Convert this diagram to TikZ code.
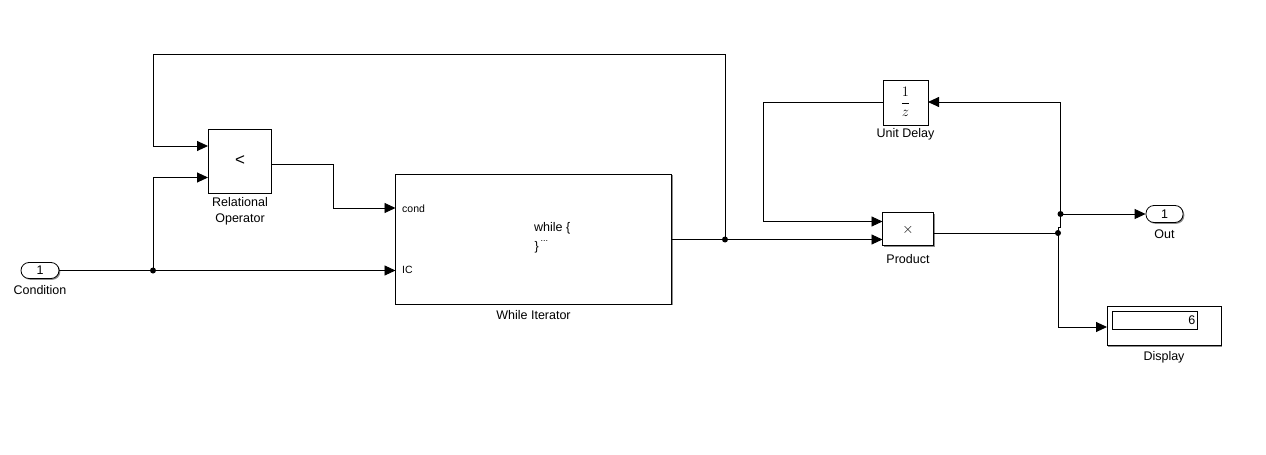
\documentclass[tikz,border=0pt]{standalone}
\usepackage{fontspec}
\setmainfont{Liberation Sans}
\usetikzlibrary{arrows.meta,shadows,calc}

\tikzset{
  wire/.style={line width=0.9pt, line join=miter},
  sig/.style={wire, -{Triangle[length=11pt,width=10pt]}},
  blk/.style={draw, line width=0.8pt, fill=white, inner sep=0pt,
    general shadow={fill=black!45, shadow xshift=1.3pt, shadow yshift=-1.3pt}},
  port/.style={blk, rounded corners=8pt},
  lbl/.style={font=\fontsize{12.5}{14}\selectfont, inner sep=0pt, align=center},
  plbl/.style={font=\fontsize{10.5}{12}\selectfont, inner sep=0pt, anchor=west},
  dot/.style={circle, fill=black, inner sep=0pt, minimum size=6pt}
}

\begin{document}
\begin{tikzpicture}[x=1pt, y=-1pt]
\useasboundingbox (0,0) rectangle (1266,455);

% blocks
\node[port, minimum width=38pt, minimum height=16pt, font=\fontsize{12.5}{14}\selectfont]
  (cnd) at (40,270.5) {1};
\node[lbl] (cndl) at (40,290) {Condition};

\node[blk, minimum width=63pt, minimum height=64pt] (rel) at (239.5,161) {};
\node[inner sep=0pt, font=\fontsize{17}{18}\selectfont] (relsym) at (240,161) {<};
\node[lbl] (rell) at (240,211.5) {Relational\\[1.5pt]Operator};

\node[blk, minimum width=276pt, minimum height=130pt] (wh) at (533.5,239) {};
\node[plbl] (whc) at (402,208.5) {cond};
\node[plbl] (whi) at (402,270) {IC};
\node[font=\fontsize{12.5}{14}\selectfont, inner sep=0pt, anchor=west] (w1) at (534,228) {while \{};
\node[font=\fontsize{9}{10}\selectfont, inner sep=0pt, anchor=base west] (w2) at (540.5,241) {...};
\node[font=\fontsize{12.5}{14}\selectfont, inner sep=0pt, anchor=west] (w3) at (534.5,247) {\}};
\node[lbl] (whl) at (533.5,315) {While Iterator};

\node[blk, minimum width=45pt, minimum height=45pt] (ud) at (905.5,102.5) {};
\node[inner sep=0pt, font=\fontsize{14}{16}\selectfont] (udf) at (905.5,102) {$\displaystyle\frac{1}{z}$};
\node[lbl] (udl) at (905.5,134) {Unit Delay};

\node[blk, minimum width=50.5pt, minimum height=33.5pt] (pr) at (908,229) {};
\node[inner sep=0pt, font=\fontsize{14}{16}\selectfont] (prs) at (908,230) {$\times$};
\node[lbl] (prl) at (908,259) {Product};

\node[port, minimum width=37pt, minimum height=17pt, font=\fontsize{12.5}{14}\selectfont]
  (out) at (1164.5,214) {1};
\node[lbl] (outl) at (1164.5,234) {Out};

\node[blk, minimum width=114pt, minimum height=38.5pt] (dsp) at (1164,326) {};
\node[draw, line width=0.8pt, minimum width=85.5pt, minimum height=17.5pt, inner sep=0pt]
  (dspw) at (1155,320.5) {};
\node[inner sep=0pt, font=\fontsize{12.5}{14}\selectfont, anchor=east] (dspv) at (1195.5,320) {6};
\node[lbl] (dspl) at (1164,357) {Display};

% junction points and port positions
\coordinate (jA) at (153,270.5);
\coordinate (jB) at (725,239.5);
\coordinate (jC) at (1060.5,214);
\coordinate (jD) at (1058,233);
\coordinate (relin1) at (208,146);
\coordinate (relin2) at (208,177.5);
\coordinate (relout) at (271,164);
\coordinate (whcond) at (395.5,208);
\coordinate (whic) at (395.5,270.5);
\coordinate (whout) at (671.5,239.5);
\coordinate (prin1) at (882.5,221.5);
\coordinate (prin2) at (882.5,239.5);
\coordinate (prout) at (933.5,233);
\coordinate (udin) at (928,102);
\coordinate (udout) at (883,102);
\coordinate (dspin) at (1107,327);

% connectors
\draw[wire] (cnd.east) -- (jA);
\draw[sig] (jA) -- (whic);
\draw[sig] (jA) |- (relin2);
\draw[sig] (relout) -| (333,208) -- (whcond);
\draw[wire] (whout) -- (jB);
\draw[sig] (jB) -- (prin2);
\draw[sig] (jB) -- (725,54) -| (153,146) -- (relin1);
\draw[sig] (udout) -| (763,221.5) -- (prin1);
\draw[wire] (prout) -- (jD);
\draw[sig] (jD) -- (1058,227) -| (jC) |- (udin);
\draw[sig] (jC) -- (out.west);
\draw[sig] (jD) |- (dspin);

\node[dot] at (jA) {};
\node[dot] at (jB) {};
\node[dot] at (jC) {};
\node[dot] at (jD) {};
\end{tikzpicture}
\end{document}
